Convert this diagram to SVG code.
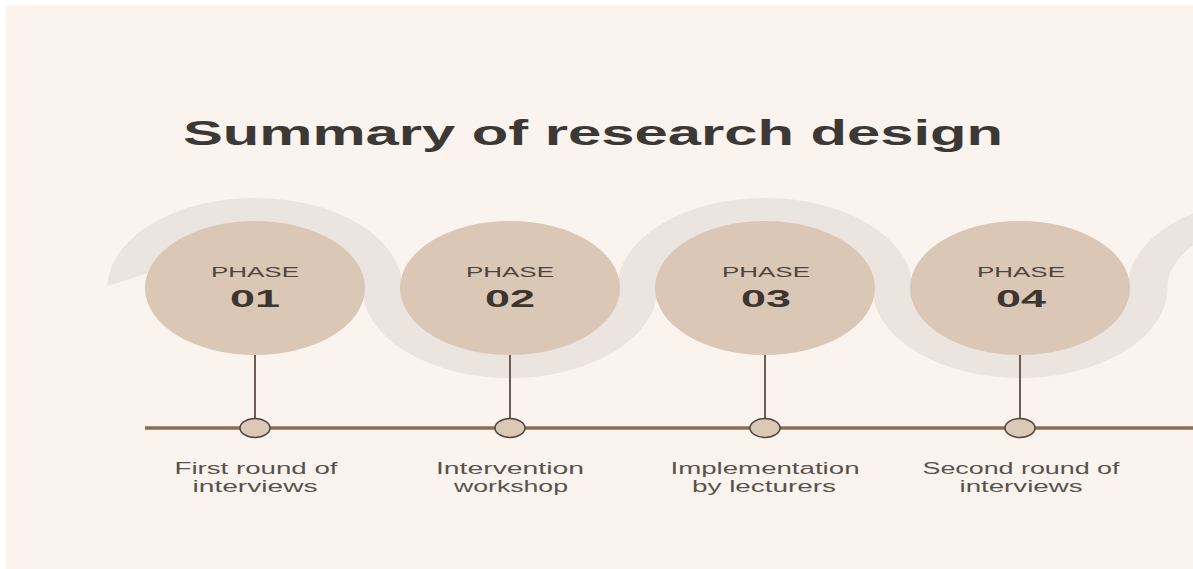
<svg xmlns="http://www.w3.org/2000/svg" width="1193" height="569" viewBox="0 0 1193 569">
  <style>
    .bg { fill: #fbf3ee; }
    .band { fill: none; stroke: #ebe4df; stroke-width: 40; }
    .disc { fill: #dbc7b5; }
    .title { font-family: "Liberation Sans", Arial, sans-serif; font-weight: bold; font-size: 35px; fill: #3b3836; }
    .phase { font-family: "Liberation Sans", Arial, sans-serif; font-size: 15.5px; fill: #4d4540; text-anchor: middle; }
    .num { font-family: "Liberation Sans", Arial, sans-serif; font-weight: bold; font-size: 23px; fill: #3d3530; text-anchor: middle; }
    .label { font-family: "Liberation Sans", Arial, sans-serif; font-size: 16px; fill: #58524e; text-anchor: middle; }
    .stem { stroke: #6d5d54; stroke-width: 2; }
    .axis { stroke: #8b6e54; stroke-width: 3.5; }
    .dot { fill: #dcc8b6; stroke: #4f4540; stroke-width: 1.5; }
  </style>

  <defs>
    <!-- slanted cut for the free end of the ribbon on the left -->
    <clipPath id="ribbon-cut">
      <polygon points="0,0 1193,0 1193,569 160,569 160,269.3 0,320.7"/>
    </clipPath>
  </defs>

  <rect width="1193" height="569" fill="#ffffff"/>
  <rect class="bg" x="6" y="5" width="1187" height="564"/>

  <text class="title" x="183" y="145" textLength="820" lengthAdjust="spacingAndGlyphs">Summary of research design</text>

  <!-- winding ribbon behind the phase discs, drawn round and flattened vertically -->
  <g id="ribbon" clip-path="url(#ribbon-cut)">
    <g transform="translate(0,288) scale(1,0.61)">
      <path class="band" d="M135.2,43.6 A127.5,127.5 0 1 1 382.5,0 A127.5,127.5 0 0 0 637.5,0 A127.5,127.5 0 0 1 892.5,0 A127.5,127.5 0 0 0 1147.5,0 A127.5,127.5 0 0 1 1275,-127.5"/>
    </g>
  </g>

  <!-- connectors: timeline axis and stems -->
  <g id="connectors">
    <line class="axis" x1="145" y1="428" x2="1193" y2="428"/>
    <line class="stem" x1="255" y1="354" x2="255" y2="420"/>
    <line class="stem" x1="510" y1="354" x2="510" y2="420"/>
    <line class="stem" x1="765" y1="354" x2="765" y2="420"/>
    <line class="stem" x1="1020" y1="354" x2="1020" y2="420"/>
  </g>

  <g id="phase-01">
    <ellipse class="disc" cx="255" cy="288" rx="110" ry="67"/>
    <text class="phase" x="255" y="277" textLength="88" lengthAdjust="spacingAndGlyphs">PHASE</text>
    <text class="num" x="255" y="306.5" textLength="50" lengthAdjust="spacingAndGlyphs">01</text>
    <ellipse class="dot" cx="255" cy="428" rx="15" ry="9.5"/>
    <text class="label" x="256" y="474" textLength="163" lengthAdjust="spacingAndGlyphs">First round of</text>
    <text class="label" x="255" y="492" textLength="125" lengthAdjust="spacingAndGlyphs">interviews</text>
  </g>

  <g id="phase-02">
    <ellipse class="disc" cx="510" cy="288" rx="110" ry="67"/>
    <text class="phase" x="510" y="277" textLength="88" lengthAdjust="spacingAndGlyphs">PHASE</text>
    <text class="num" x="510" y="306.5" textLength="50" lengthAdjust="spacingAndGlyphs">02</text>
    <ellipse class="dot" cx="510" cy="428" rx="15" ry="9.5"/>
    <text class="label" x="510" y="474" textLength="148" lengthAdjust="spacingAndGlyphs">Intervention</text>
    <text class="label" x="511" y="492" textLength="114" lengthAdjust="spacingAndGlyphs">workshop</text>
  </g>

  <g id="phase-03">
    <ellipse class="disc" cx="765" cy="288" rx="110" ry="67"/>
    <text class="phase" x="766" y="277" textLength="88" lengthAdjust="spacingAndGlyphs">PHASE</text>
    <text class="num" x="766" y="306.5" textLength="50" lengthAdjust="spacingAndGlyphs">03</text>
    <ellipse class="dot" cx="765" cy="428" rx="15" ry="9.5"/>
    <text class="label" x="765" y="474" textLength="189" lengthAdjust="spacingAndGlyphs">Implementation</text>
    <text class="label" x="764" y="492" textLength="144" lengthAdjust="spacingAndGlyphs">by lecturers</text>
  </g>

  <g id="phase-04">
    <ellipse class="disc" cx="1020" cy="288" rx="110" ry="67"/>
    <text class="phase" x="1021" y="277" textLength="88" lengthAdjust="spacingAndGlyphs">PHASE</text>
    <text class="num" x="1021" y="306.5" textLength="50" lengthAdjust="spacingAndGlyphs">04</text>
    <ellipse class="dot" cx="1020" cy="428" rx="15" ry="9.5"/>
    <text class="label" x="1021" y="474" textLength="197" lengthAdjust="spacingAndGlyphs">Second round of</text>
    <text class="label" x="1021" y="492" textLength="123" lengthAdjust="spacingAndGlyphs">interviews</text>
  </g>
</svg>
